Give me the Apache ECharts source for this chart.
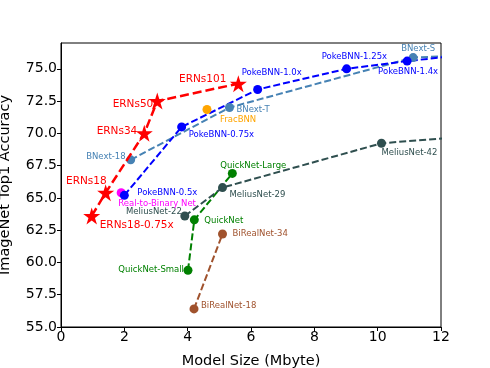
<!DOCTYPE html>
<html><head><meta charset="utf-8">
<script src="https://cdn.jsdelivr.net/npm/echarts@6/dist/echarts.min.js"></script>
<style>html,body{margin:0;padding:0;background:#fff}#c{width:490px;height:368px}</style>
</head><body><div id="c"></div>
<script>
// ---- data ----
const ernsX = [0.97, 1.41, 2.63, 3.04, 5.6];
const ernsY = [63.6, 65.4, 70.0, 72.5, 73.85];
const ernsNames = ['ERNs18-0.75x', 'ERNs18', 'ERNs34', 'ERNs50', 'ERNs101'];

const pokeX = [2.0, 3.81, 6.21, 9.02, 10.93, 14.0];
const pokeY = [65.2, 70.5, 73.4, 75.0, 75.6, 76.4];
const pokeNames = ['PokeBNN-0.5x', 'PokeBNN-0.75x', 'PokeBNN-1.0x', 'PokeBNN-1.25x', 'PokeBNN-1.4x', ''];

const bnextX = [2.2, 5.32, 11.12, 14.0];
const bnextY = [67.95, 72.0, 75.87, 76.2];
const bnextNames = ['BNext-18', 'BNext-T', 'BNext-S', ''];

const fracX = [4.61];
const fracY = [71.85];
const fracNames = ['FracBNN'];

const r2bX = [1.9];
const r2bY = [65.4];
const r2bNames = ['Real-to-Binary Net'];

const meliusX = [3.91, 5.1, 10.12, 14.0];
const meliusY = [63.6, 65.8, 69.23, 70.0];
const meliusNames = ['MeliusNet-22', 'MeliusNet-29', 'MeliusNet-42', ''];

const quickX = [4.01, 4.21, 5.41];
const quickY = [59.4, 63.3, 66.9];
const quickNames = ['QuickNet-Small', 'QuickNet', 'QuickNet-Large'];

const birealX = [4.2, 5.1];
const birealY = [56.4, 62.2];
const birealNames = ['BiRealNet-18', 'BiRealNet-34'];

const xTicks = [0, 2, 4, 6, 8, 10, 12];
const yTicks = [55.0, 57.5, 60.0, 62.5, 65.0, 67.5, 70.0, 72.5, 75.0];

// ---- label placement (style, not data): [align, dx, dy] ----
const ernsLab = [['left', 8, 9], ['right', 1, -11], ['right', -7, -2], ['right', -4, 3], ['right', -12, -4]];
const pokeLab = [['left', 13, -3], ['left', 7, 8], ['left', -16, -17], ['left', -25, -12], ['left', -29, 11], ['left', 0, 0]];
const bnextLab = [['right', -5, -3], ['left', 7, 2], ['left', -12, -9], ['left', 0, 0]];
const fracLab = [['left', 13, 10]];
const r2bLab = [['left', -3, 11]];
const meliusLab = [['right', -3, -4], ['left', 7, 7], ['left', 0, 9], ['left', 0, 0]];
const quickLab = [['right', -4, 0], ['left', 10, 1], ['left', -12, -8]];
const birealLab = [['left', 7, -3], ['left', 10, 0]];

const FONT = 'DejaVu Sans';

function mk(name, xs, ys, names, labs, color, opts) {
  opts = opts || {};
  const data = xs.map((x, i) => ({
    value: [x, ys[i]],
    label: {
      show: names[i] !== '',
      formatter: names[i],
      position: 'inside',
      align: labs[i][0],
      verticalAlign: 'middle',
      offset: [labs[i][1], labs[i][2]],
      color: color,
      fontFamily: FONT,
      fontSize: opts.fontSize || 8.5
    }
  }));
  return {
    name: name,
    type: 'line',
    data: data,
    clip: true,
    symbol: opts.symbol || 'circle',
    symbolSize: opts.symbolSize || 9,
    itemStyle: { color: color },
    lineStyle: { color: color, width: opts.lineWidth || 2, type: opts.dash || [7, 3] },
    showSymbol: true,
    z: opts.z || 2,
    animation: false
  };
}

const star = 'path://M0,-1 L0.2245,-0.309 L0.951,-0.309 L0.363,0.118 L0.588,0.809 L0,0.382 L-0.588,0.809 L-0.363,0.118 L-0.951,-0.309 L-0.2245,-0.309 Z';

const series = [
  mk('BiRealNet', birealX, birealY, birealNames, birealLab, '#a0522d'),
  mk('QuickNet', quickX, quickY, quickNames, quickLab, '#008000'),
  mk('MeliusNet', meliusX, meliusY, meliusNames, meliusLab, '#2f4f4f'),
  mk('Real-to-Binary', r2bX, r2bY, r2bNames, r2bLab, '#ff00ff'),
  mk('FracBNN', fracX, fracY, fracNames, fracLab, '#ffa500'),
  mk('BNext', bnextX, bnextY, bnextNames, bnextLab, '#4682b4'),
  mk('PokeBNN', pokeX, pokeY, pokeNames, pokeLab, '#0000ff'),
  mk('ERNs', ernsX, ernsY, ernsNames, ernsLab, '#ff0000', { symbol: star, symbolSize: 17, lineWidth: 2.5, dash: [9, 4], fontSize: 10.5, z: 3 })
];

const chart = echarts.init(document.getElementById('c'), null, { renderer: 'canvas' });
chart.setOption({
  backgroundColor: '#fff',
  animation: false,
  textStyle: { fontFamily: FONT },
  grid: { left: 61, right: 49, top: 43, bottom: 41, show: true, borderColor: '#000', borderWidth: 1, backgroundColor: 'transparent', containLabel: false, outerBoundsMode: 'none' },
  xAxis: {
    type: 'value', min: xTicks[0], max: xTicks[xTicks.length - 1], interval: 2,
    name: 'Model Size (Mbyte)', nameLocation: 'middle', nameGap: 27,
    nameTextStyle: { fontFamily: FONT, fontSize: 14.5, color: '#000' },
    axisLine: { show: true, lineStyle: { color: '#000', width: 1 } },
    axisTick: { show: true, inside: false, length: 4, lineStyle: { color: '#000' } },
    axisLabel: { fontFamily: FONT, fontSize: 14, color: '#000', margin: 3 },
    splitLine: { show: false }
  },
  yAxis: {
    type: 'value', min: yTicks[0], max: 77, interval: 2.5,
    name: 'ImageNet Top1 Accuracy', nameLocation: 'middle', nameGap: 48,
    nameTextStyle: { fontFamily: FONT, fontSize: 14.5, color: '#000' },
    axisLine: { show: true, lineStyle: { color: '#000', width: 1 } },
    axisTick: { show: true, inside: false, length: 4, lineStyle: { color: '#000' } },
    axisLabel: { fontFamily: FONT, fontSize: 14, color: '#000', margin: 4, showMaxLabel: false,
      formatter: v => yTicks.indexOf(v) >= 0 ? v.toFixed(1) : '' },
    splitLine: { show: false }
  },
  series: series
});
</script></body></html>
